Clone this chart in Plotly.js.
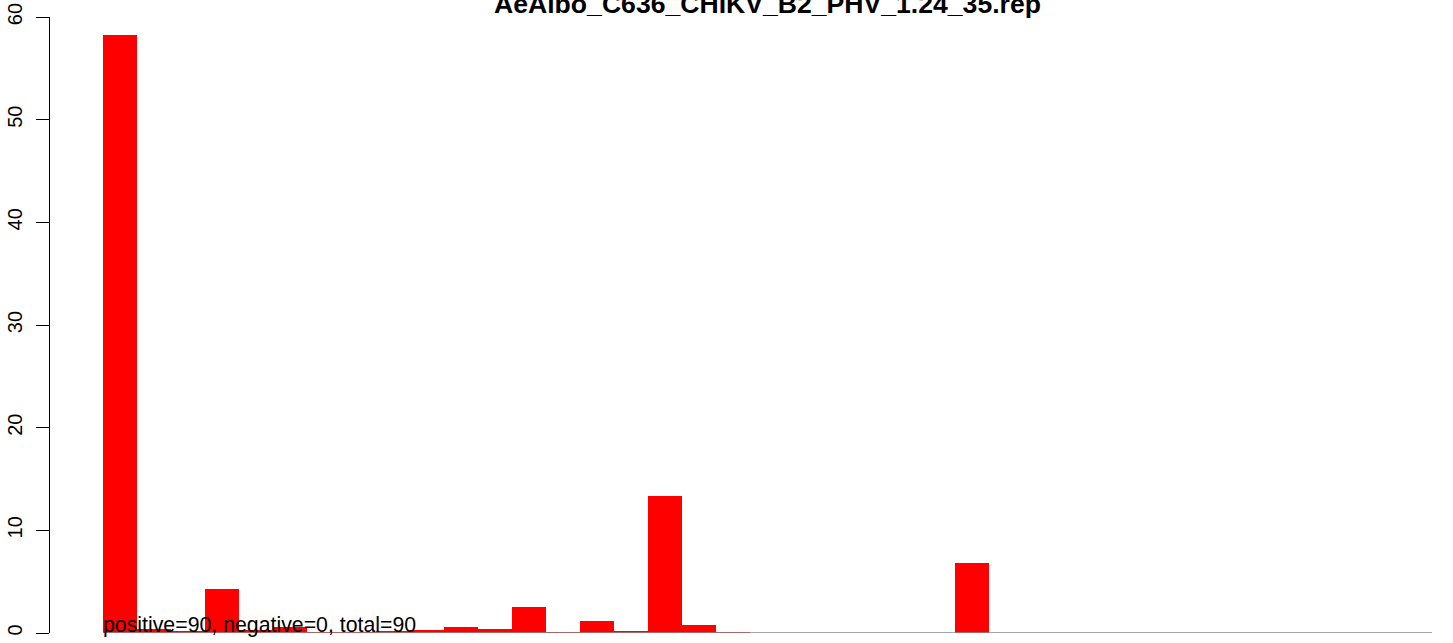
<!DOCTYPE html>
<html>
<head>
<meta charset="utf-8">
<script src="https://cdn.plot.ly/plotly-3.0.1.min.js"></script>
<style>html,body{margin:0;padding:0;background:#fff;}#chart{width:1453px;height:643px;}</style>
</head>
<body>
<div id="chart"></div>
<script>
// ---- data ----
var chartTitle = "AeAlbo_C636_CHIKV_B2_PHV_1.24_35.rep";
var binIndex = [0,1,2,3,4,5,6,7,8,9,10,11,12,13,14,15,16,17,18,19,20,21,22,23,24,25,26,27,28,29,30,31,32,33,34,35,36,37,38];
var binValues = [58.2,0.4,0.2,4.3,0.3,0.6,0.1,0.05,0.2,0.3,0.55,0.35,2.55,0.1,1.2,0.2,13.35,0.8,0.1,0,0,0,0,0,0,6.82,0,0,0,0,0,0,0,0,0,0,0,0,0];
var yTickValues = [0,10,20,30,40,50,60];
var countLabel = "positive=90, negative=0, total=90";

var W = 1453, H = 643;
var mL = 50, mR = 21, mT = 17, mB = 10.3;
var plotW = W - mL - mR;
var barPx = 34.08; // pixel width of one bar
var gapPx = 53;    // gap between y axis and first bar
var n = binValues.length;
var xMax = n - 0.5;
var xMin = -0.5 - gapPx / barPx;
var font = "Liberation Sans, Arial, Helvetica, sans-serif";

var trace = {
  type: "bar",
  x: binIndex,
  y: binValues,
  width: 1,
  marker: {color: "#ff0000", line: {width: 0}},
  hoverinfo: "x+y"
};

var layout = {
  width: W, height: H,
  margin: {l: mL, r: mR, t: mT, b: mB, pad: 0},
  paper_bgcolor: "#ffffff",
  plot_bgcolor: "#ffffff",
  showlegend: false,
  bargap: 0,
  font: {family: font, color: "#000000", size: 20},
  title: {
    text: "<b>" + chartTitle + "</b>",
    font: {family: font, size: 26.6, color: "#000000"},
    x: 0.5,
    xref: "container",
    xanchor: "center",
    y: 1 - 13 / H,
    yref: "container",
    yanchor: "bottom"
  },
  xaxis: {
    range: [xMin, xMax],
    showgrid: false, zeroline: false, showline: false,
    showticklabels: false, ticks: "",
    fixedrange: true
  },
  yaxis: {
    range: [0, 60],
    tickmode: "array",
    tickvals: yTickValues,
    ticktext: yTickValues.map(String),
    tickangle: -90,
    ticks: "outside",
    ticklen: 13,
    tickwidth: 1,
    tickcolor: "#000000",
    ticklabelstandoff: 6,
    showline: true,
    linecolor: "#000000",
    linewidth: 1,
    showgrid: false,
    zeroline: false,
    tickfont: {family: font, size: 20, color: "#000000"},
    fixedrange: true
  },
  shapes: [{
    type: "line",
    xref: "x", yref: "y",
    x0: -0.5, x1: xMax, y0: 0, y1: 0,
    line: {color: "#8a8a8a", width: 1.5},
    layer: "above"
  }],
  annotations: [{
    text: countLabel,
    xref: "x", yref: "y",
    x: -0.5, y: 0,
    xanchor: "left", yanchor: "bottom",
    xshift: -2,
    yshift: -6,
    showarrow: false,
    font: {family: font, size: 21.3, color: "#000000"}
  }]
};

// title centered over the bar region
var barLeftPx = mL + (-0.5 - xMin) / (xMax - xMin) * plotW;
var barRightPx = mL + plotW;
layout.title.x = (barLeftPx + barRightPx) / 2 / W;

Plotly.newPlot("chart", [trace], layout, {displayModeBar: false, staticPlot: true});
</script>
</body>
</html>
